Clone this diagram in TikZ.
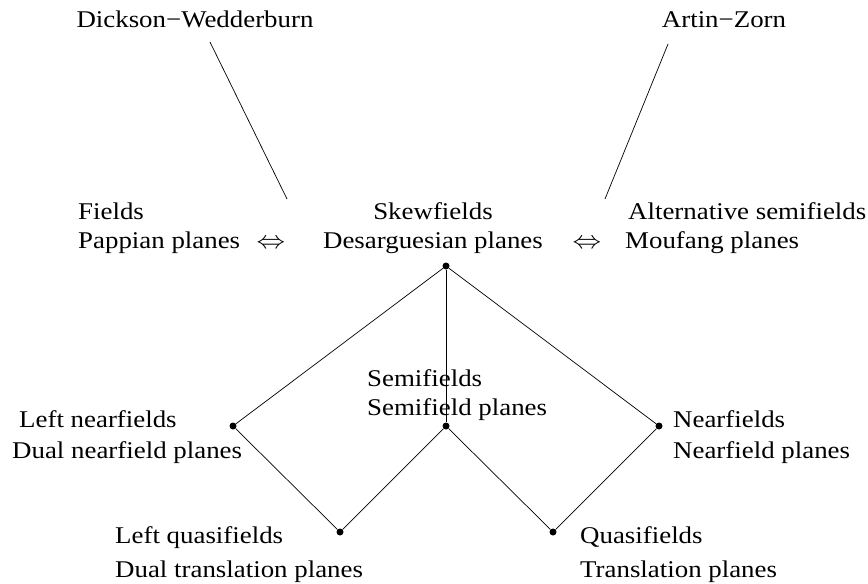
\documentclass[tikz,border=0pt]{standalone}
\usepackage{fontspec}
\setmainfont[FakeStretch=1.12]{Liberation Serif}
\begin{document}
\begin{tikzpicture}[x=1pt,y=-1pt,
  lbl/.style={anchor=base west,inner sep=0pt,font=\fontsize{24}{28}\selectfont},
  clbl/.style={anchor=base,inner sep=0pt,font=\fontsize{24}{28}\selectfont},
  dot/.style={circle,fill=black,inner sep=0pt,minimum size=7pt},
  edge/.style={line width=0.7pt}]
\useasboundingbox (0,0) rectangle (868,584);
% top labels
\node[clbl] (dw) at (195,27) {Dickson−Wedderburn};
\node[clbl] (az) at (724,27) {Artin−Zorn};
\coordinate (dwa) at (210,42);
\coordinate (dwb) at (287,199);
\coordinate (aza) at (668,44);
\coordinate (azb) at (605,199);
\draw[edge] (dwa) -- (dwb);
\draw[edge] (aza) -- (azb);
% middle row
\node[lbl] (f1) at (78,219) {Fields};
\node[lbl] (f2) at (78,248) {Pappian planes};
\node[clbl] (eq1) at (271,248) {\scalebox{1.15}[1]{$\Leftrightarrow$}};
\node[clbl] (s1) at (433,219) {Skewfields};
\node[clbl] (s2) at (433,248) {Desarguesian planes};
\node[clbl] (eq2) at (587,248) {\scalebox{1.15}[1]{$\Leftrightarrow$}};
\node[lbl] (a1) at (628,219) {Alternative semifields};
\node[lbl] (a2) at (625,248) {Moufang planes};
% dots
\node[dot] (top) at (446,266) {};
\node[dot] (lft) at (233,426) {};
\node[dot] (mid) at (446,426) {};
\node[dot] (rgt) at (659,426) {};
\node[dot] (bl) at (340,532) {};
\node[dot] (br) at (553,532) {};
\draw[edge] (top) -- (lft);
\draw[edge] (top) -- (mid);
\draw[edge] (top) -- (rgt);
\draw[edge] (lft) -- (bl);
\draw[edge] (mid) -- (bl);
\draw[edge] (mid) -- (br);
\draw[edge] (rgt) -- (br);
% lower labels
\node[lbl] (sm1) at (367,386) {Semifields};
\node[lbl] (sm2) at (367,415) {Semifield planes};
\node[lbl] (ln1) at (19,427) {Left nearfields};
\node[lbl] (ln2) at (12,458) {Dual nearfield planes};
\node[lbl] (n1) at (673,427) {Nearfields};
\node[lbl] (n2) at (673,458) {Nearfield planes};
\node[lbl] (lq1) at (115,543) {Left quasifields};
\node[lbl] (lq2) at (115,577) {Dual translation planes};
\node[lbl] (q1) at (580,543) {Quasifields};
\node[lbl] (q2) at (580,577) {Translation planes};
\end{tikzpicture}
\end{document}
